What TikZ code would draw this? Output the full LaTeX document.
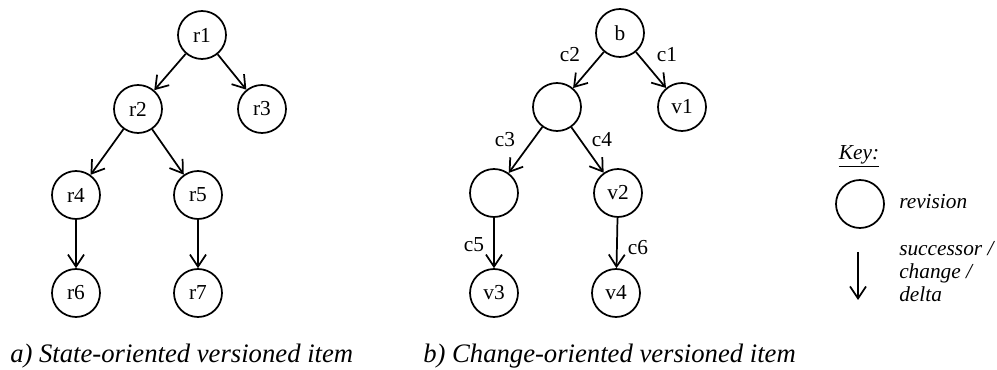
\documentclass[tikz,border=0pt]{standalone}
\usepackage{fontspec}
\setmainfont{Liberation Serif}
\usetikzlibrary{arrows.meta}
\begin{document}
\begin{tikzpicture}[x=0.75pt,y=-0.75pt,
  rev/.style={circle,draw,line width=1.3pt,minimum size=36pt,inner sep=0pt,font=\fontsize{16}{16}\selectfont},
  succ/.style={line width=1.3pt,-{Straight Barb[length=9pt,width=12pt,line width=1.3pt]}},
  lbl/.style={font=\fontsize{16}{16}\selectfont,inner sep=0pt},
  captxt/.style={font=\fontsize{20}{20}\selectfont\itshape,inner sep=0pt,anchor=base west},
  keytxt/.style={font=\fontsize{16}{17.3}\selectfont\itshape,inner sep=0pt,align=left}]
\useasboundingbox (0,0) rectangle (997,370);
% left tree
\node[rev] (r1) at (202,35) {r1};
\node[rev] (r2) at (138,109) {r2};
\node[rev] (r3) at (262,109) {r3};
\node[rev] (r4) at (76,195) {r4};
\node[rev] (r5) at (198,195) {r5};
\node[rev] (r6) at (76,293) {r6};
\node[rev] (r7) at (198,293) {r7};
\draw[succ] (r1) -- (r2);
\draw[succ] (r1) -- (r3);
\draw[succ] (r2) -- (r4);
\draw[succ] (r2) -- (r5);
\draw[succ] (r4) -- (r6);
\draw[succ] (r5) -- (r7);
\node[captxt] (capa) at (10,363) {a) State-oriented versioned item};
% right tree
\node[rev] (b) at (620,33) {b};
\node[rev] (n1) at (557,107) {};
\node[rev] (v1) at (682,107) {v1};
\node[rev] (n2) at (494,193) {};
\node[rev] (v2) at (618,193) {v2};
\node[rev] (v3) at (494,293) {v3};
\node[rev] (v4) at (616,293) {v4};
\draw[succ] (b) -- (n1);
\draw[succ] (b) -- (v1);
\draw[succ] (n1) -- (n2);
\draw[succ] (n1) -- (v2);
\draw[succ] (n2) -- (v3);
\draw[succ] (v2) -- (v4);
\node[lbl] (c2) at (570,55) {c2};
\node[lbl] (c1) at (667,55) {c1};
\node[lbl] (c3) at (505,140) {c3};
\node[lbl] (c4) at (602,140) {c4};
\node[lbl] (c5) at (474,245) {c5};
\node[lbl] (c6) at (638,248) {c6};
\node[captxt] (capb) at (423,363) {b) Change-oriented versioned item};
% key
\node[keytxt] (key) at (859,156) {\underline{Key:}};
\node[rev] (krev) at (860,204) {};
\node[keytxt,anchor=west] (krevt) at (899,202) {revision};
\coordinate (ka) at (858,252);
\coordinate (kb) at (858,300);
\draw[succ] (ka) -- (kb);
\node[keytxt,anchor=north west] (kst) at (899,241) {successor /\\change /\\delta};
\end{tikzpicture}
\end{document}
